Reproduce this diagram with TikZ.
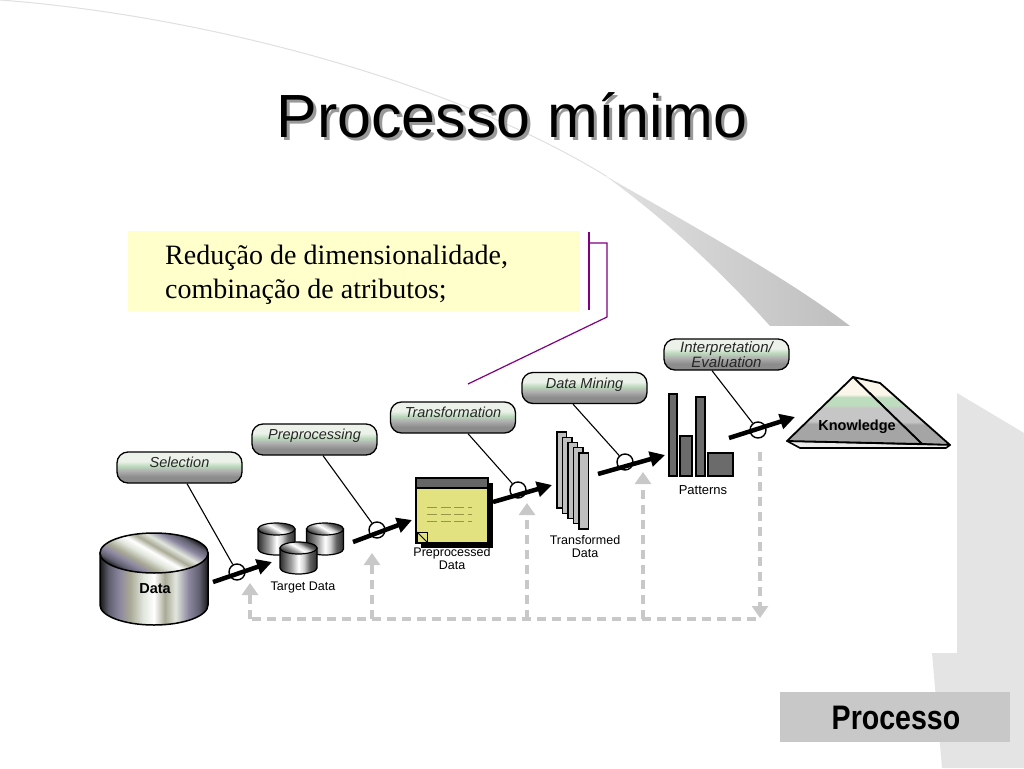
\documentclass[tikz,border=0pt]{standalone}
\usepackage{fontspec}
\setmainfont{Liberation Serif}
\newfontfamily\arialf{Liberation Sans}
\usetikzlibrary{arrows.meta}
\definecolor{callfill}{RGB}{255,255,204}
\definecolor{callline}{RGB}{128,0,128}
\definecolor{swooshA}{RGB}{225,225,225}
\definecolor{swooshB}{RGB}{190,190,190}
\definecolor{sidegray}{RGB}{228,228,228}
\definecolor{boxgray}{RGB}{200,200,200}
\definecolor{fbgray}{RGB}{200,200,200}
\definecolor{docyellow}{RGB}{226,226,128}
\definecolor{docdash}{RGB}{150,150,70}
\definecolor{pwhite}{RGB}{236,242,234}
\definecolor{pgreen}{RGB}{186,216,186}
\definecolor{pgray}{RGB}{178,178,178}
\definecolor{pdark}{RGB}{140,140,140}
\definecolor{mk1}{RGB}{25,25,25}
\definecolor{mk2}{RGB}{95,95,110}
\definecolor{mk3}{RGB}{140,135,160}
\definecolor{mk4}{RGB}{170,170,150}
\definecolor{mk5}{RGB}{225,230,220}
\definecolor{sm1}{RGB}{45,45,45}
\definecolor{sm2}{RGB}{100,100,100}
\definecolor{sm3}{RGB}{160,160,160}
\definecolor{sm4}{RGB}{210,210,210}
\definecolor{kg1}{RGB}{165,165,165}
\definecolor{kg2}{RGB}{198,198,198}
\definecolor{kgreen}{RGB}{190,220,190}
\definecolor{kcream}{RGB}{250,246,234}
\pgfdeclareverticalshading{pillshade}{100bp}{color(0bp)=(pdark); color(25bp)=(pdark); color(35bp)=(pdark); color(45bp)=(pgray); color(52bp)=(pgreen); color(60bp)=(pwhite); color(75bp)=(pwhite); color(100bp)=(pwhite)}
\pgfdeclarehorizontalshading{metal}{100bp}{color(0bp)=(mk1); color(25bp)=(mk1); color(29bp)=(mk2); color(34bp)=(mk3); color(39bp)=(mk4); color(45bp)=(mk5); color(50bp)=(white); color(55bp)=(mk4); color(60bp)=(mk5); color(66bp)=(mk3); color(71bp)=(mk2); color(75bp)=(mk1); color(100bp)=(mk1)}
\pgfdeclarehorizontalshading{smallmetal}{100bp}{color(0bp)=(sm1); color(25bp)=(sm1); color(32bp)=(sm2); color(40bp)=(sm3); color(50bp)=(white); color(57bp)=(sm4); color(65bp)=(sm2); color(75bp)=(sm1); color(100bp)=(sm1)}
\pgfdeclareverticalshading{knowshade}{100bp}{color(0bp)=(kg1); color(25bp)=(kg1); color(40bp)=(kg1); color(42bp)=(kg2); color(52bp)=(kg2); color(54bp)=(kgreen); color(60bp)=(kgreen); color(62bp)=(kcream); color(75bp)=(kcream); color(100bp)=(kcream)}
\newcommand\smallcyl[2]{%
  \shadedraw[shading=smallmetal, line width=1.2pt] (#1-18.5,#2+6) -- (#1-18.5,#2+26) arc[start angle=180, end angle=0, x radius=18.5, y radius=6] -- (#1+18.5,#2+6) -- cycle;
  \shadedraw[shading=smallmetal, shading angle=60, line width=1.2pt] (#1,#2+6) ellipse[x radius=18.5, y radius=6];}
\begin{document}
\begin{tikzpicture}[x=1pt,y=-1pt,
  pillbase/.style={draw=black, line width=1.3pt, rounded corners=11pt, shade, shading=pillshade,
    minimum width=125pt, minimum height=31pt, inner sep=0pt, text=black!85},
  pill/.style={pillbase, text height=10.5pt, text depth=10.5pt,
    font=\arialf\itshape\fontsize{14.5}{15}\selectfont},
  ring/.style={circle, draw=black, line width=1.4pt, minimum size=16pt, inner sep=0pt},
  conn/.style={draw=black, line width=1.1pt},
  flow/.style={line width=4.5pt, -{Triangle[length=15pt,width=15pt]}},
  fb/.style={draw=fbgray, line width=4pt, dash pattern=on 9pt off 6pt},
  fbtip/.style={fb, -{Triangle[length=12pt,width=16pt]}},
  lbl/.style={font=\arialf\fontsize{12.5}{12.5}\selectfont, align=center, inner sep=0pt},
  boldlbl/.style={font=\arialf\bfseries\fontsize{14.5}{15}\selectfont, inner sep=0pt},
  titlefont/.style={font=\arialf\fontsize{61}{61}\selectfont, anchor=base, inner sep=0pt},
  calltext/.style={font=\fontsize{28}{34}\selectfont, anchor=base west, inner sep=0pt},
  purple line/.style={draw=callline, line width=1.2pt}
]
\useasboundingbox (0,0) rectangle (1024,768);
\fill[white] (0,0) rectangle (1024,768);

% background decoration
\draw[black!12, line width=1pt] (0,0) .. controls (200,15) and (450,80) .. (606,176);
\begin{scope}
  \clip (0,0) rectangle (1024,325);
  \shade[left color=swooshA, right color=swooshB] (604,175) .. controls (700,230) and (790,280) .. (850,326) -- (770,326) .. controls (720,270) and (660,215) .. (604,175) -- cycle;
\end{scope}
\fill[sidegray] (957,393) -- (1024,433) -- (1024,768) -- (942,768) -- (932,653) -- (957,653) -- cycle;
\fill[boxgray] (780,692) rectangle (1010,742);
\node[font=\arialf\bfseries\fontsize{34}{34}\selectfont, inner sep=0pt] (proc) at (896,717.5) {\scalebox{0.84}[1]{Processo}};

% title
\node[titlefont, text=black!40] (titleshadow) at (515,140) {Processo mínimo};
\node[titlefont] (title) at (512,137) {Processo mínimo};

% callout
\node[fill=callfill, minimum width=452pt, minimum height=80pt, anchor=north west, inner sep=0pt] (callbox) at (128,231) {};
\node[calltext] (call1) at (165,264) {Redução de dimensionalidade,};
\node[calltext] (call2) at (165,298) {combinação de atributos;};
\coordinate (cv1) at (589,232);
\coordinate (cv2) at (589,310);
\coordinate (cb1) at (589,243);
\coordinate (cb2) at (607,243);
\coordinate (cb3) at (607,317);
\coordinate (callend) at (468,384);
\draw[purple line] (cv1) -- (cv2);
\draw[purple line] (cb1) -- (cb2) -- (cb3) -- (callend);

% feedback loop
\coordinate (fbR) at (756,619);
\coordinate (fbL) at (250,619);
\coordinate (fb2b) at (372,619);
\coordinate (fb3b) at (527,619);
\coordinate (fb4b) at (643,619);
\coordinate (fbT1) at (250,583);
\coordinate (fbT2) at (372,553);
\coordinate (fbT3) at (527,503);
\coordinate (fbT4) at (643,472);
\coordinate (fbK) at (760,452);
\coordinate (fbKb) at (760,618);
\draw[fb] (fbR) -- (fbL);
\draw[fbtip] (fbL) -- (fbT1);
\draw[fbtip] (fb2b) -- (fbT2);
\draw[fbtip] (fb3b) -- (fbT3);
\draw[fbtip] (fb4b) -- (fbT4);
\draw[fbtip] (fbK) -- (fbKb);

% Data cylinder
\shadedraw[shading=metal, line width=1.5pt] (100,553) -- (100,605) arc[start angle=180, end angle=0, x radius=54, y radius=20] -- (208,553) -- cycle;
\shadedraw[shading=metal, shading angle=60, line width=1.5pt] (154,553) ellipse[x radius=54, y radius=20];
\node[boldlbl] (data) at (155,589) {Data};

% Target data
\smallcyl{276.5}{523}
\smallcyl{325}{523}
\smallcyl{298.5}{542}
\node[lbl] (target) at (303,587) {Target Data};

% Preprocessed data document
\fill[black] (421,483) rectangle (493,548);
\draw[fill=docyellow, line width=1.2pt] (416,478) rectangle (488,543);
\draw[fill=black!60, line width=1.2pt] (416,478) rectangle (488,488);
\foreach \yy in {507,514,521}
  \draw[docdash, line width=0.9pt, dash pattern=on 10pt off 3.5pt] (427,\yy) -- (472,\yy);
\draw[line width=1pt] (417,532) rectangle (427,542);
\draw[line width=1pt] (417,532) -- (427,542);
\node[lbl] (ppd) at (452,558.5) {Preprocessed\\Data};

% Transformed data
\foreach \i in {0,...,4}
  \draw[fill=black!25, line width=1.2pt] (557+5.5*\i,432+5.25*\i) rectangle (566.5+5.5*\i,508+5.25*\i);
\node[lbl] (trd) at (585,546.5) {Transformed\\Data};

% Patterns
\draw[fill=black!58, line width=1.4pt] (669,394) rectangle (677,476);
\draw[fill=black!58, line width=1.4pt] (680,436) rectangle (692,476);
\draw[fill=black!58, line width=1.4pt] (696,397) rectangle (705,476);
\draw[fill=black!58, line width=1.4pt] (708,453) rectangle (733,476);
\node[lbl, font=\arialf\fontsize{13}{13}\selectfont] (pat) at (703,490) {Patterns};

% Knowledge
\shadedraw[shading=knowshade, line width=1.8pt, line join=round] (853,377) -- (880,383) -- (950,445) -- (922,444) -- cycle;
\filldraw[fill=black!8, line width=1.6pt, line join=round] (787,441) -- (950,445) -- (946,448) -- (800,448) -- cycle;
\shadedraw[shading=knowshade, line width=1.8pt, line join=round] (787,441) -- (853,377) -- (922,444) -- cycle;
\node[boldlbl] (know) at (857,427) {Knowledge};

% step labels
\node[pill] (sel) at (179.5,467.5) {Selection};
\node[pill] (pre) at (314.5,439.5) {Preprocessing};
\node[pill] (tra) at (453,417.5) {Transformation};
\node[pill] (dmn) at (584.5,388) {Data Mining};
\node[pillbase, align=center, font=\arialf\itshape\fontsize{15}{12}\selectfont] (int) at (726.5,354.5) {Interpretation/\\Evaluation};

% rings
\node[ring] (r1) at (237,572) {};
\node[ring] (r2) at (377,530) {};
\node[ring] (r3) at (518,490) {};
\node[ring] (r4) at (625,462) {};
\node[ring] (r5) at (758,430) {};

\draw[conn] ([xshift=7.5pt]sel.south) -- (r1);
\draw[conn] ([xshift=8.5pt]pre.south) -- (r2);
\draw[conn] ([xshift=15pt]tra.south) -- (r3);
\draw[conn] ([xshift=-11.5pt]dmn.south) -- (r4);
\draw[conn] ([xshift=-14.5pt]int.south) -- (r5);

% main flow arrows
\coordinate (a1s) at (213,582); \coordinate (a1e) at (272,562);
\coordinate (a2s) at (353,542); \coordinate (a2e) at (412,520);
\coordinate (a3s) at (493,502); \coordinate (a3e) at (552,485);
\coordinate (a4s) at (598,474); \coordinate (a4e) at (665,455);
\coordinate (a5s) at (729,438); \coordinate (a5e) at (795,417);
\draw[flow] (a1s) -- (a1e);
\draw[flow] (a2s) -- (a2e);
\draw[flow] (a3s) -- (a3e);
\draw[flow] (a4s) -- (a4e);
\draw[flow] (a5s) -- (a5e);
\end{tikzpicture}
\end{document}
